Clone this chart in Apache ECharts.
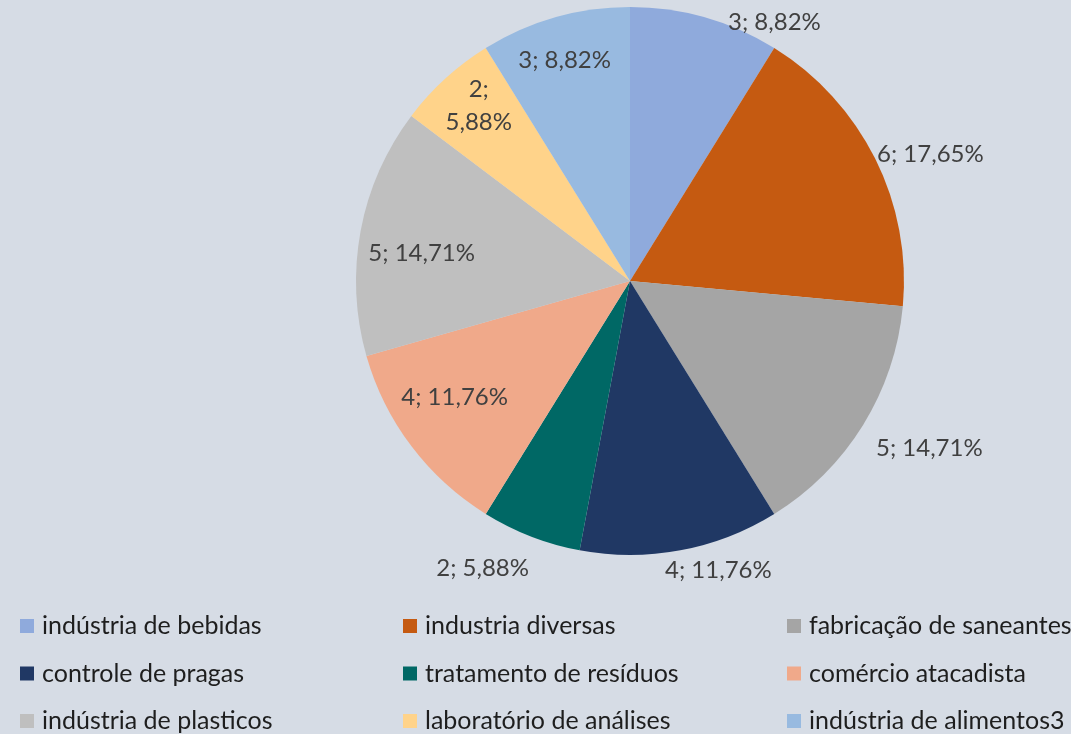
<!DOCTYPE html>
<html>
<head>
<meta charset="utf-8">
<script src="https://cdn.jsdelivr.net/npm/echarts@6/dist/echarts.min.js"></script>
<style>
html,body{margin:0;padding:0;background:#d6dce5}
#chart{width:1071px;height:734px}
</style>
</head>
<body>
<div id="chart"></div>
<script>
const categories = ['indústria de bebidas', 'industria diversas', 'fabricação de saneantes',
    'controle de pragas', 'tratamento de resíduos', 'comércio atacadista',
    'indústria de plasticos', 'laboratório de análises', 'indústria de alimentos3'];
const values = [3, 6, 5, 4, 2, 4, 5, 2, 3];
const colors = ['#8faadc', '#c55a11', '#a5a5a5', '#203864', '#006865', '#f0a98a', '#bfbfbf', '#ffd38a', '#98bae0'];

// where excel put each label: [labelLine length, length2]
const labelSpots = [[-4.7, 19.3], [11, -13.1], [43.3, -28.8], [20, -24], [33.8, -15.2],
    [-81.5, -36.6], [-121.7, 0.3], [-37.2, -46.5], [-44.2, -48.9]];
const wrapped = [7];

const total = values.reduce((a, b) => a + b, 0);
const font = 'Lato';

window.addEventListener('load', function () {
    let chart = echarts.init(document.getElementById('chart'));

    let data = categories.map((name, i) => ({
        name: name,
        value: values[i],
        itemStyle: {color: colors[i]},
        labelLine: {show: false, length: labelSpots[i][0], length2: labelSpots[i][1]}
    }));

    let legendLefts = [20, 403, 787];
    let legends = legendLefts.map((left, c) => ({
        orient: 'vertical',
        left: left,
        top: 613.5,
        padding: 0,
        icon: 'rect',
        itemWidth: 14,
        itemHeight: 14,
        itemGap: 22.5,
        selectedMode: false,
        data: [categories[c], categories[c + 3], categories[c + 6]],
        textStyle: {fontFamily: font, fontSize: 25, lineHeight: 24, color: '#1e1e1e', padding: [0, 0, 0, 3]}
    }));

    let option = {
        backgroundColor: '#d6dce5',
        animation: false,
        legend: legends,
        series: [{
            type: 'pie',
            radius: 274,
            center: [630, 281],
            startAngle: 90,
            clockwise: true,
            avoidLabelOverlap: false,
            silent: true,
            label: {
                show: true,
                position: 'outside',
                color: '#404040',
                fontFamily: font,
                fontSize: 24,
                formatter: function (p) {
                    let pct = (p.value / total * 100).toFixed(2).replace('.', ',');
                    if (wrapped.includes(p.dataIndex)) {
                        return '{c|' + p.value + ';}\n{c|' + pct + '%}';
                    }
                    return p.value + '; ' + pct + '%';
                },
                rich: {
                    c: {align: 'center', color: '#404040', fontFamily: font, fontSize: 24, lineHeight: 33}
                }
            },
            labelLine: {show: false},
            data: data
        }]
    };

    chart.setOption(option);
});
</script>
</body>
</html>
